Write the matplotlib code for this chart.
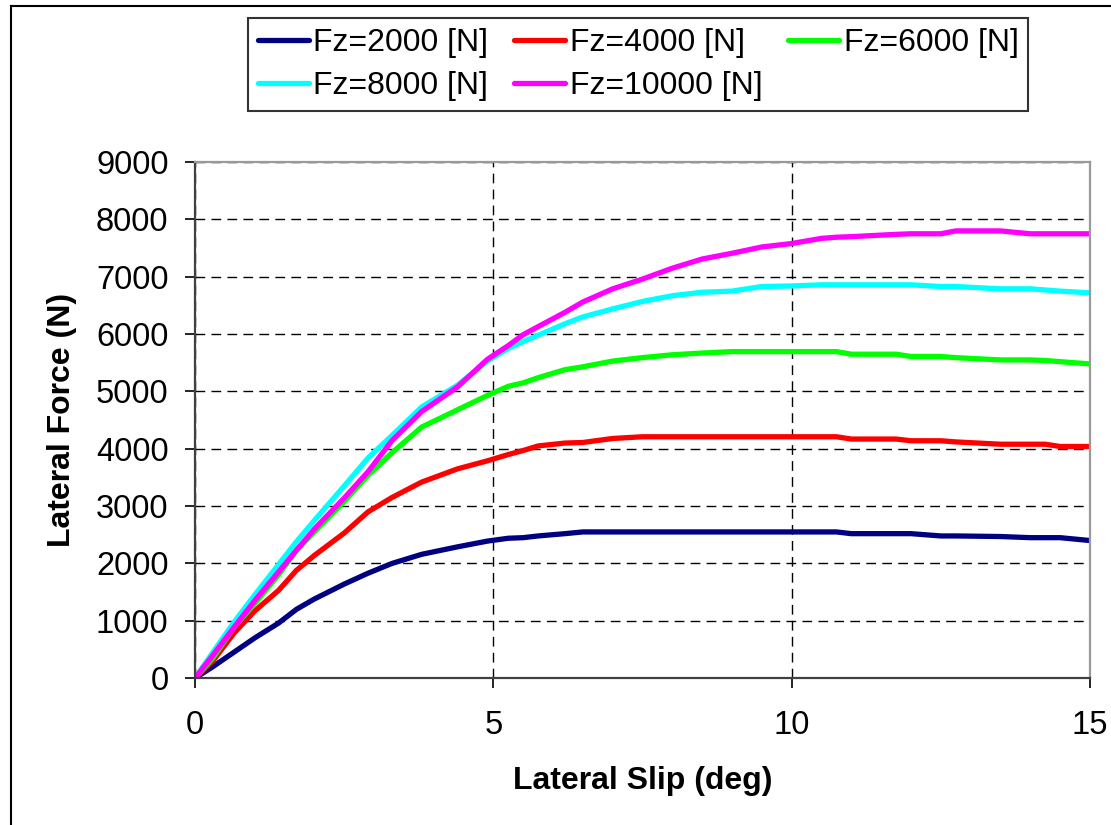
import matplotlib.pyplot as plt
from matplotlib.lines import Line2D

plt.rcParams['font.family'] = ['Liberation Sans', 'DejaVu Sans']

# lateral slip (deg) sample points shared by all curves
slip = [0, 0.3, 0.65, 1.0, 1.4, 1.7, 2.0, 2.5, 2.9, 3.3, 3.8, 4.4, 4.9, 5.25, 5.5,
        5.75, 6.2, 6.5, 7.0, 7.5, 8.0, 8.5, 9.0, 9.5, 10.0, 10.5, 10.75, 11.0,
        11.75, 12.0, 12.5, 12.75, 13.5, 14.0, 14.25, 14.5, 15.0]

fy_2000 = [0, 200, 450, 700, 960, 1200, 1380, 1640, 1830, 2000, 2160, 2290, 2390, 2440, 2450,
           2480, 2520, 2550, 2550, 2550, 2550, 2550, 2550, 2550, 2550, 2550, 2550, 2520,
           2520, 2520, 2480, 2480, 2470, 2450, 2450, 2450, 2400]
fy_4000 = [0, 300, 780, 1170, 1530, 1880, 2140, 2530, 2900, 3150, 3420, 3650, 3790, 3900, 3970,
           4050, 4100, 4110, 4180, 4210, 4210, 4210, 4210, 4210, 4210, 4210, 4210, 4170,
           4170, 4140, 4140, 4120, 4080, 4080, 4080, 4040, 4040]
fy_6000 = [0, 350, 880, 1300, 1800, 2230, 2550, 3080, 3540, 3930, 4380, 4680, 4930, 5090, 5150,
           5240, 5380, 5430, 5530, 5590, 5640, 5670, 5695, 5695, 5695, 5695, 5695, 5650,
           5650, 5610, 5610, 5590, 5550, 5550, 5540, 5520, 5480]
fy_8000 = [0, 450, 970, 1450, 1980, 2380, 2750, 3350, 3840, 4230, 4730, 5110, 5530, 5750, 5870,
           5980, 6180, 6300, 6440, 6570, 6670, 6730, 6750, 6830, 6840, 6860, 6860, 6860,
           6860, 6860, 6830, 6830, 6790, 6790, 6770, 6750, 6720]
fy_10000 = [0, 400, 880, 1350, 1850, 2230, 2600, 3140, 3600, 4140, 4650, 5080, 5560, 5800, 5990,
            6130, 6380, 6560, 6790, 6960, 7150, 7310, 7410, 7520, 7580, 7670, 7690, 7700,
            7740, 7750, 7750, 7800, 7800, 7750, 7750, 7750, 7750]

series = [
    ('Fz=2000 [N]', fy_2000, '#000080'),
    ('Fz=4000 [N]', fy_4000, '#FF0000'),
    ('Fz=6000 [N]', fy_6000, '#00FF00'),
    ('Fz=8000 [N]', fy_8000, '#00FFFF'),
    ('Fz=10000 [N]', fy_10000, '#FF00FF'),
]

fig = plt.figure(figsize=(11.11, 8.25), dpi=100)
ax = fig.add_axes([0.1755, 0.178, 0.8056, 0.6255])

handles = []
for label, fy, color in series:
    h, = ax.plot(slip, fy, color=color, lw=3.8, label=label, solid_capstyle='round')
    handles.append(h)

ax.set_xlim(0, 15)
ax.set_ylim(0, 9000)
ax.set_xticks([0, 5, 10, 15])
ax.set_yticks(range(0, 9001, 1000))
ax.grid(True, color='black', linestyle=(0, (7, 4.5)), linewidth=1.0)
ax.tick_params(axis='both', direction='out', length=7, width=1.2, labelsize=23.5)
ax.tick_params(axis='y', pad=12)
ax.tick_params(axis='x', pad=16)

for side in ['left', 'bottom']:
    ax.spines[side].set_color('#404040')
    ax.spines[side].set_linewidth(1.6)
for side in ['top', 'right']:
    ax.spines[side].set_color('#999999')
    ax.spines[side].set_linewidth(1.6)

ax.set_xlabel('Lateral Slip (deg)', fontsize=23, fontweight='bold', labelpad=18)
ax.set_ylabel('Lateral Force (N)', fontsize=23, fontweight='bold', labelpad=14)

# legend is filled column by column, so reorder to get Excel's row layout
order = [0, 3, 1, 4, 2]
leg = fig.legend([handles[i] for i in order], [series[i][0] for i in order],
                 ncol=3, loc='upper left', bbox_to_anchor=(0.2232, 0.978),
                 fontsize=23, frameon=True, fancybox=False, handlelength=1.6,
                 handletextpad=0.15, columnspacing=0.8, labelspacing=0.42,
                 borderpad=0.3, borderaxespad=0)
leg.get_frame().set_edgecolor('black')
leg.get_frame().set_linewidth(1.5)

# outer chart-area border (left and top edges visible)
fig.add_artist(Line2D([11 / 1111, 11 / 1111], [0, 1 - 6 / 825], color='black', lw=1.5))
fig.add_artist(Line2D([11 / 1111, 1], [1 - 6 / 825, 1 - 6 / 825], color='black', lw=1.5))

fig.savefig('out.png', dpi=100)
